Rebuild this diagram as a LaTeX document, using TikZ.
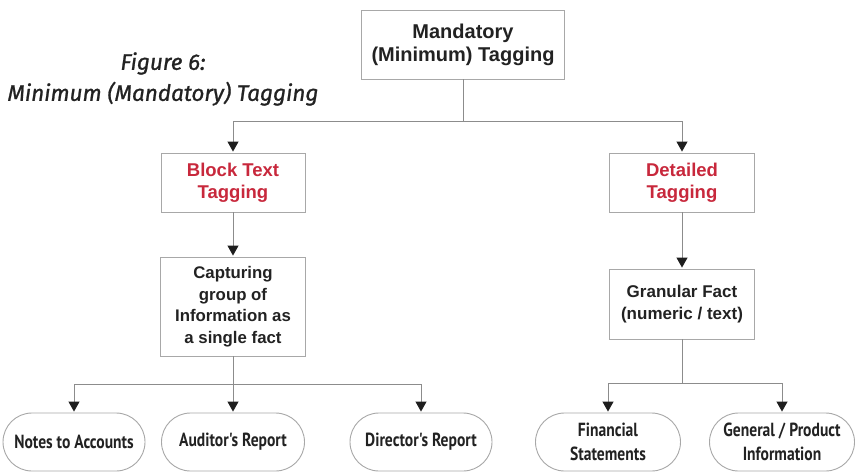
\documentclass[tikz,border=0pt]{standalone}
\usepackage{fontspec}
\setmainfont{Liberation Sans}
\newfontfamily\ovalfont{PT Sans}
\newfontfamily\titlefont{Fira Sans}
\usetikzlibrary{arrows.meta,shapes.misc}
\definecolor{txt}{HTML}{222222}
\definecolor{redtxt}{HTML}{C8283C}
\definecolor{linec}{HTML}{8C8C8C}
\definecolor{boxc}{HTML}{A8A8A8}
\definecolor{tipc}{HTML}{1E1E1E}
\tikzset{
  box/.style={draw=boxc, line width=0.9pt, rectangle, align=center, text=txt,
    font=\fontsize{17}{21}\selectfont\bfseries, inner sep=0pt},
  redbox/.style={box, text=redtxt, font=\fontsize{18.5}{22}\selectfont\bfseries},
  oval/.style={draw=boxc, line width=0.9pt, rounded rectangle, align=center, text=txt,
    font=\ovalfont\fontsize{19}{24}\selectfont\bfseries, inner sep=0pt},
  conn/.style={draw=linec, line width=1pt},
  arr/.style={conn, -{Triangle[width=11pt,length=10pt,color=tipc]}, shorten >=1pt},
}
\newcommand\sq[1]{\scalebox{0.82}[1]{#1}}
\begin{document}
\begin{tikzpicture}[x=1pt,y=-1pt]
\useasboundingbox[fill=white] (0,0) rectangle (858,472);
\node[box, minimum width=203, minimum height=69, font=\fontsize{20}{23}\selectfont\bfseries] (top) at (463,44.5) {Mandatory\\(Minimum) Tagging};
\node[text=txt, align=center, font=\titlefont\itshape\addfontfeature{FakeBold=1}\fontsize{22.5}{31}\selectfont] (title) at (163,79) {Figure 6:\\Minimum (Mandatory) Tagging};
\node[redbox, minimum width=144, minimum height=59] (block) at (233,182.5) {Block Text\\Tagging};
\node[redbox, minimum width=145, minimum height=59] (det) at (682,182.5) {Detailed\\Tagging};
\node[box, minimum width=145, minimum height=99, font=\fontsize{16.8}{21.5}\selectfont\bfseries] (capt) at (233,306.5) {Capturing\\group of\\Information as\\a single fact};
\node[box, minimum width=145, minimum height=70, font=\fontsize{17}{22}\selectfont\bfseries] (gran) at (682,304) {Granular Fact\\(numeric / text)};
\node[oval, minimum width=142, minimum height=58] (notes) at (74,442) {\sq{Notes to Accounts}};
\node[oval, minimum width=143, minimum height=58] (aud) at (233,442) {\sq{Auditor's Report}};
\node[oval, minimum width=142, minimum height=58] (dir) at (421,442) {\sq{Director's Report}};
\node[oval, minimum width=145, minimum height=58] (fin) at (608,442) {\sq{Financial}\\\sq{Statements}};
\node[oval, minimum width=145, minimum height=58] (gen) at (782,442) {\sq{General / Product}\\\sq{Information}};
\coordinate (j1) at (463,121);
\coordinate (j2) at (233,384);
\coordinate (j3) at (682,383);
\draw[conn] (top.south) -- (j1);
\draw[arr] (j1) -| (block.north);
\draw[arr] (j1) -| (det.north);
\draw[arr] (block.south) -- (capt.north);
\draw[arr] (det.south) -- (gran.north);
\draw[conn] (capt.south) -- (j2);
\draw[arr] (j2) -| (notes.north);
\draw[arr] (j2) -- (aud.north);
\draw[arr] (j2) -| (dir.north);
\draw[conn] (gran.south) -- (j3);
\draw[arr] (j3) -| (fin.north);
\draw[arr] (j3) -| (gen.north);
\end{tikzpicture}
\end{document}
